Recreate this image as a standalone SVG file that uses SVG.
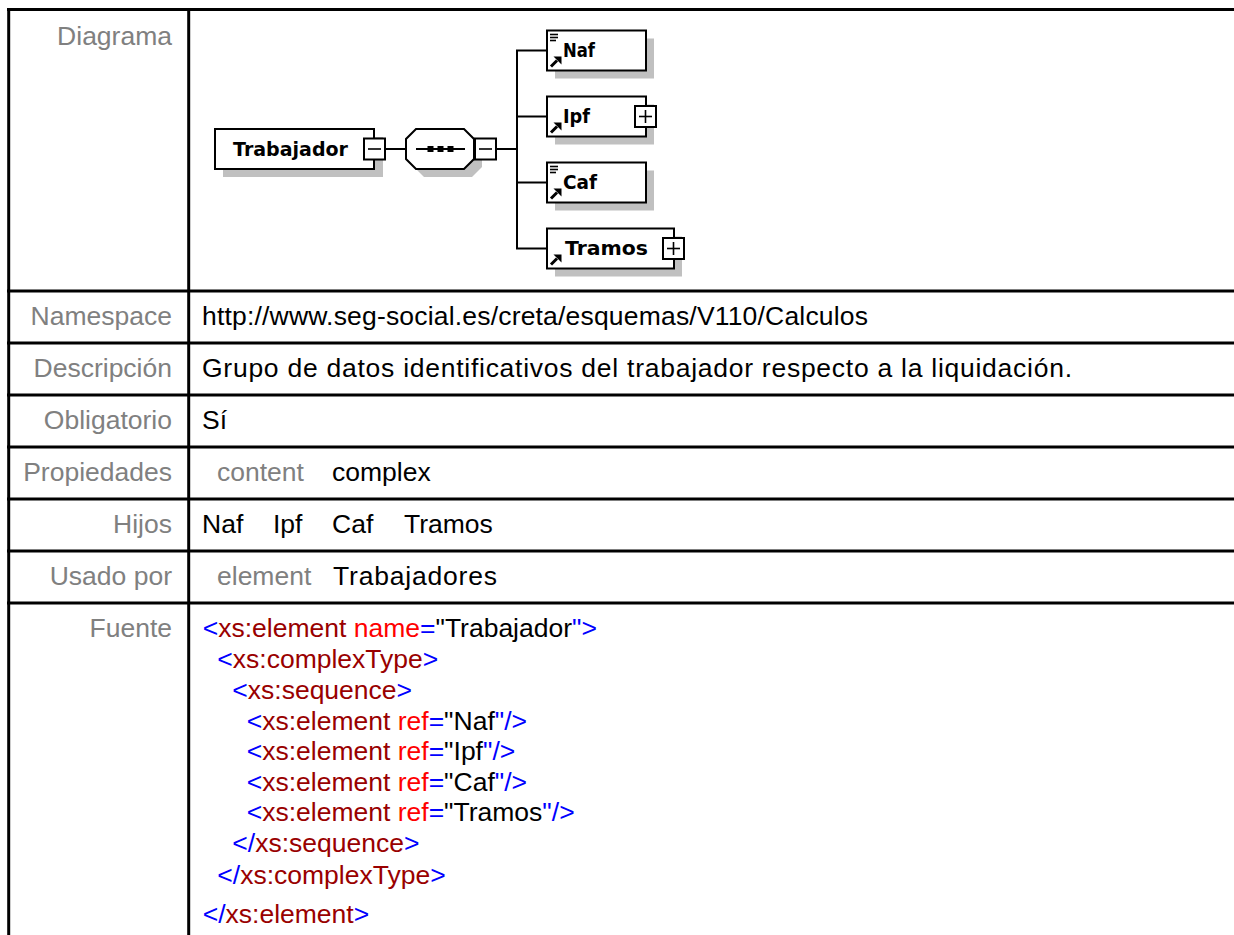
<svg xmlns="http://www.w3.org/2000/svg" xmlns:xlink="http://www.w3.org/1999/xlink" width="1234" height="935" viewBox="0 0 1234 935">
<style>
.tl{stroke:#000;stroke-width:3;fill:none}
.lab{font-family:"Liberation Sans",Arial,sans-serif;font-size:26.5px;fill:#808080;text-anchor:end}
.val{font-family:"Liberation Sans",Arial,sans-serif;font-size:26.5px;fill:#000}
.g{fill:#808080}
.b{fill:#0000ff}
.m{fill:#990000}
.r{fill:#ff0000}
.k{fill:#000}
.box{fill:#fff;stroke:#000;stroke-width:2}
.sh{fill:#c0c0c0}
.cn{stroke:#000;stroke-width:2;fill:none}
.nm{font-family:"DejaVu Sans","Liberation Sans",sans-serif;font-weight:bold;font-size:20px;fill:#000}
</style>
<defs>
<g id="arrow"><line x1="4" y1="-4" x2="10" y2="-10" stroke="#000" stroke-width="3"/><polygon points="6.5,-14 14.5,-14 14.5,-6" fill="#000"/></g>
<g id="lines" stroke="#000" stroke-width="1.6"><line x1="3" y1="4" x2="11" y2="4"/><line x1="3" y1="7" x2="11" y2="7"/><line x1="3" y1="10" x2="9" y2="10"/></g>
<g id="minus"><rect x="0" y="0" width="21" height="21" class="box"/><line x1="4" y1="10.5" x2="17" y2="10.5" stroke="#000" stroke-width="1.6"/></g>
<g id="plus"><rect x="0" y="0" width="21" height="21" class="box"/><line x1="4" y1="10.5" x2="17" y2="10.5" stroke="#000" stroke-width="1.6"/><line x1="10.5" y1="4" x2="10.5" y2="17" stroke="#000" stroke-width="1.6"/></g>
</defs>
<rect width="1234" height="935" fill="#fff"/>
<g id="table">
<line class="tl" x1="7" y1="9.5" x2="1234" y2="9.5"/>
<line class="tl" x1="8.7" y1="8" x2="8.7" y2="935"/>
<line class="tl" x1="188.7" y1="8" x2="188.7" y2="935"/>
<line class="tl" x1="7" y1="291" x2="1234" y2="291"/>
<line class="tl" x1="7" y1="343" x2="1234" y2="343"/>
<line class="tl" x1="7" y1="395" x2="1234" y2="395"/>
<line class="tl" x1="7" y1="447" x2="1234" y2="447"/>
<line class="tl" x1="7" y1="499" x2="1234" y2="499"/>
<line class="tl" x1="7" y1="551" x2="1234" y2="551"/>
<line class="tl" x1="7" y1="603" x2="1234" y2="603"/>
</g>
<g id="labels">
<text class="lab" x="172" y="45">Diagrama</text>
<text class="lab" x="172" y="325">Namespace</text>
<text class="lab" x="172" y="377">Descripción</text>
<text class="lab" x="172" y="429">Obligatorio</text>
<text class="lab" x="172" y="481">Propiedades</text>
<text class="lab" x="172" y="533">Hijos</text>
<text class="lab" x="172" y="585">Usado por</text>
<text class="lab" x="172" y="637">Fuente</text>
</g>
<g id="values">
<text class="val" x="202" y="325" textLength="666" lengthAdjust="spacing">http://www.seg-social.es/creta/esquemas/V110/Calculos</text>
<text class="val" x="202" y="377" textLength="870" lengthAdjust="spacing">Grupo de datos identificativos del trabajador respecto a la liquidación.</text>
<text class="val" x="202" y="429">Sí</text>
<text class="val g" x="217" y="481">content</text>
<text class="val" x="332" y="481">complex</text>
<text class="val" x="202" y="533">Naf</text>
<text class="val" x="273" y="533">Ipf</text>
<text class="val" x="332" y="533">Caf</text>
<text class="val" x="404" y="533">Tramos</text>
<text class="val g" x="217" y="585">element</text>
<text class="val" x="333" y="585" textLength="164" lengthAdjust="spacing">Trabajadores</text>
</g>
<g id="source">
<text class="val" x="202.7" y="637"><tspan class="b">&lt;</tspan><tspan class="m">xs:element</tspan> <tspan class="r">name</tspan><tspan class="b">=</tspan><tspan class="k">"Trabajador</tspan><tspan class="b">"&gt;</tspan></text>
<text class="val" x="217.3" y="668"><tspan class="b">&lt;</tspan><tspan class="m">xs:complexType</tspan><tspan class="b">&gt;</tspan></text>
<text class="val" x="232.3" y="699"><tspan class="b">&lt;</tspan><tspan class="m">xs:sequence</tspan><tspan class="b">&gt;</tspan></text>
<text class="val" x="246.7" y="729.5"><tspan class="b">&lt;</tspan><tspan class="m">xs:element</tspan> <tspan class="r">ref</tspan><tspan class="b">=</tspan><tspan class="k">"Naf</tspan><tspan class="b">"/&gt;</tspan></text>
<text class="val" x="246.7" y="760"><tspan class="b">&lt;</tspan><tspan class="m">xs:element</tspan> <tspan class="r">ref</tspan><tspan class="b">=</tspan><tspan class="k">"Ipf</tspan><tspan class="b">"/&gt;</tspan></text>
<text class="val" x="246.7" y="790.7"><tspan class="b">&lt;</tspan><tspan class="m">xs:element</tspan> <tspan class="r">ref</tspan><tspan class="b">=</tspan><tspan class="k">"Caf</tspan><tspan class="b">"/&gt;</tspan></text>
<text class="val" x="246.7" y="821.3"><tspan class="b">&lt;</tspan><tspan class="m">xs:element</tspan> <tspan class="r">ref</tspan><tspan class="b">=</tspan><tspan class="k">"Tramos</tspan><tspan class="b">"/&gt;</tspan></text>
<text class="val" x="232.3" y="852"><tspan class="b">&lt;/</tspan><tspan class="m">xs:sequence</tspan><tspan class="b">&gt;</tspan></text>
<text class="val" x="217.3" y="883.5"><tspan class="b">&lt;/</tspan><tspan class="m">xs:complexType</tspan><tspan class="b">&gt;</tspan></text>
<text class="val" x="202.7" y="923"><tspan class="b">&lt;/</tspan><tspan class="m">xs:element</tspan><tspan class="b">&gt;</tspan></text>
</g>
<g id="connectors">
<line class="cn" x1="385" y1="149" x2="406" y2="149"/>
<line class="cn" x1="496" y1="149" x2="517" y2="149"/>
<line class="cn" x1="517" y1="50.5" x2="517" y2="248.5"/>
<line class="cn" x1="516" y1="50.5" x2="547" y2="50.5"/>
<line class="cn" x1="516" y1="116.5" x2="547" y2="116.5"/>
<line class="cn" x1="516" y1="182.5" x2="547" y2="182.5"/>
<line class="cn" x1="516" y1="248.5" x2="547" y2="248.5"/>
</g>
<g id="Trabajador">
<rect class="sh" x="223" y="137" width="160" height="40"/>
<rect class="box" x="215" y="129" width="159" height="40"/>
<text class="nm" x="233" y="156" textLength="115" lengthAdjust="spacingAndGlyphs">Trabajador</text>
<use xlink:href="#minus" x="364" y="138.5"/>
</g>
<g id="sequence">
<path class="sh" d="M424,137 H472 L482,147 V167 L472,177 H424 L414,167 V147 Z"/>
<path class="box" d="M416,129 H464 L474,139 V159 L464,169 H416 L406,159 V139 Z"/>
<line x1="416" y1="149" x2="465" y2="149" stroke="#000" stroke-width="2"/>
<rect x="427.5" y="146" width="6" height="6" fill="#000"/>
<rect x="437.5" y="146" width="6" height="6" fill="#000"/>
<rect x="447.5" y="146" width="6" height="6" fill="#000"/>
<use xlink:href="#minus" x="475" y="138.5"/>
</g>
<g id="Naf">
<rect class="sh" x="555" y="38.5" width="99" height="40"/>
<rect class="box" x="547" y="30.5" width="99" height="40"/>
<use xlink:href="#lines" x="547" y="30.5"/>
<use xlink:href="#arrow" x="547" y="70.5"/>
<text class="nm" x="563" y="56.5" textLength="32" lengthAdjust="spacingAndGlyphs">Naf</text>
</g>
<g id="Ipf">
<rect class="sh" x="555" y="104.5" width="99" height="40"/>
<rect class="box" x="547" y="96.5" width="99" height="40"/>
<use xlink:href="#arrow" x="547" y="136.5"/>
<text class="nm" x="563" y="122.5" textLength="27" lengthAdjust="spacingAndGlyphs">Ipf</text>
<use xlink:href="#plus" x="635" y="106"/>
</g>
<g id="Caf">
<rect class="sh" x="555" y="170.5" width="99" height="40"/>
<rect class="box" x="547" y="162.5" width="99" height="40"/>
<use xlink:href="#lines" x="547" y="162.5"/>
<use xlink:href="#arrow" x="547" y="202.5"/>
<text class="nm" x="563" y="188.5" textLength="34" lengthAdjust="spacingAndGlyphs">Caf</text>
</g>
<g id="Tramos">
<rect class="sh" x="555" y="236.5" width="127" height="40"/>
<rect class="box" x="547" y="228.5" width="127" height="40"/>
<use xlink:href="#arrow" x="547" y="268.5"/>
<text class="nm" x="565" y="254.5" textLength="83" lengthAdjust="spacingAndGlyphs">Tramos</text>
<use xlink:href="#plus" x="663" y="238"/>
</g>
</svg>
